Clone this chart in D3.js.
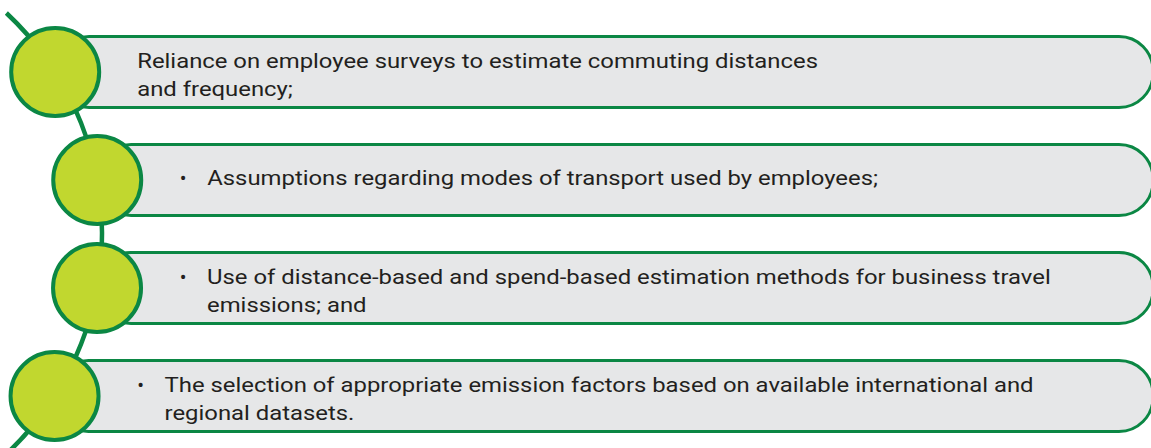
<!DOCTYPE html>
<html>
<head>
<meta charset="utf-8">
<script src="https://cdn.jsdelivr.net/npm/d3@7"></script>
<style>
  body { margin: 0; background: #fff; }
  svg { display: block; font-family: Roboto, "Noto Sans", sans-serif; }
</style>
</head>
<body>
<svg id="chart"></svg>
<script>
// content of each row, one array per piece
const rows = [0, 1, 2, 3]
const lines = [
  ["Reliance on employee surveys to estimate commuting distances", "and frequency;"],
  ["Assumptions regarding modes of transport used by employees;"],
  ["Use of distance-based and spend-based estimation methods for business travel", "emissions; and"],
  ["The selection of appropriate emission factors based on available international and", "regional datasets."]
]
const bullets = [false, true, true, true]

const width = 1151, height = 448
const GREEN = '#0b8744', LIME = '#c1d72f', GREY = '#e6e7e8'

let svg = d3.select('#chart')
  .attr('width', width)
  .attr('height', height)

let y = d3.scalePoint()
  .domain(rows)
  .range([72, 396])

// big arc the circles sit on
let arcX = -200, arcY = 233.5, arcR = 302
function xOnArc(yy) {
  return arcX + Math.sqrt(arcR * arcR - (yy - arcY) * (yy - arcY))
}

let p = d3.path()
p.arc(arcX, arcY, arcR, Math.atan2(13 - arcY, xOnArc(13) - arcX), Math.atan2(452 - arcY, xOnArc(452) - arcX))
svg.append('path')
  .attr('d', p.toString())
  .attr('fill', 'none')
  .attr('stroke', GREEN)
  .attr('stroke-width', 4.5)

let barH = 71, circR = 44

let g = svg.selectAll('g.row')
  .data(rows)
  .enter().append('g')
  .classed('row', true)

g.append('rect')
  .attr('x', d => xOnArc(y(d)))
  .attr('y', d => y(d) - barH / 2)
  .attr('width', d => width + 2 - xOnArc(y(d)))
  .attr('height', barH)
  .attr('rx', 34)
  .attr('fill', GREY)
  .attr('stroke', GREEN)
  .attr('stroke-width', 3)

g.append('circle')
  .attr('cx', d => xOnArc(y(d)))
  .attr('cy', d => y(d))
  .attr('r', circR)
  .attr('fill', LIME)
  .attr('stroke', GREEN)
  .attr('stroke-width', 4)

g.filter(d => bullets[d]).append('text')
  .attr('x', d => xOnArc(y(d)) + 86)
  .attr('y', d => y(d) + (lines[d].length > 1 ? -4 : 5))
  .attr('text-anchor', 'middle')
  .attr('font-size', 20)
  .attr('fill', '#231f20')
  .text('•')

// text in the picture is a bit wider than plain Roboto, stretch it
g.append('text')
  .attr('font-size', 21)
  .attr('fill', '#231f20')
  .attr('transform', d => `translate(${xOnArc(y(d)) + (bullets[d] ? 110 : 82)},0) scale(1.137,1)`)
  .each(function(d) {
    let y0 = y(d) + (lines[d].length > 1 ? -4 : 5)
    d3.select(this).selectAll('tspan')
      .data(lines[d])
      .enter().append('tspan')
      .attr('x', 0)
      .attr('y', (t, i) => y0 + i * 28.5)
      .text(t => t)
  })
</script>
</body>
</html>
